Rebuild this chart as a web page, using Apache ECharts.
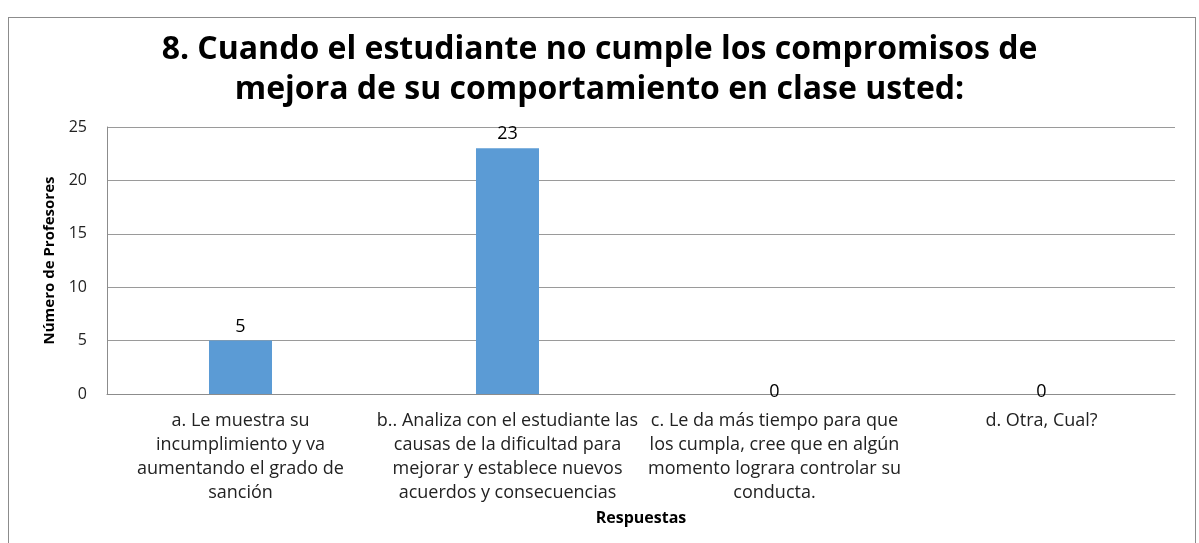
<!DOCTYPE html>
<html>
<head>
<meta charset="utf-8">
<script src="https://cdn.jsdelivr.net/npm/echarts@6/dist/echarts.min.js"></script>
<style>
  html, body { margin: 0; padding: 0; background: #fff; }
  #frame { position: absolute; left: 8px; top: 17px; width: 1186px; height: 540px; border: 1px solid #8c8c8c; }
  #chart { position: absolute; left: 0; top: 0; width: 1199px; height: 543px; }
</style>
</head>
<body>
<div id="frame"></div>
<div id="chart"></div>
<script>
const titleLines = [
  '8. Cuando el estudiante no cumple los compromisos de',
  'mejora de su comportamiento en clase usted:',
]

const categories = [
  'a. Le muestra su\nincumplimiento y va\naumentando el grado de\nsanción',
  'b.. Analiza con el estudiante las\ncausas de la dificultad para\nmejorar y establece nuevos\nacuerdos y consecuencias',
  'c. Le da más tiempo para que\nlos cumpla, cree que en algún\nmomento lograra controlar su\nconducta.',
  'd. Otra, Cual?',
]

const profesores = [5, 23, 0, 0]

const yTicks = { min: 0, max: 25, interval: 5 }

const FONT = '"Open Sans", sans-serif'

const chart = echarts.init(document.getElementById('chart'), null, { renderer: 'canvas' })

// zero values: Excel puts the label right on the axis line
const barData = profesores.map(v => v === 0
  ? { value: v, label: { offset: [0, 12] } }
  : v)

const option = {
  animation: false,
  title: {
    text: titleLines.join('\n'),
    left: 'center',
    top: 25,
    textStyle: {
      fontFamily: FONT,
      fontSize: 32,
      fontWeight: 'bold',
      color: '#000',
      lineHeight: 40,
    },
  },
  grid: { left: 107, right: 24, top: 127, bottom: 149, containLabel: false },
  xAxis: {
    type: 'category',
    data: categories,
    name: 'Respuestas',
    nameLocation: 'middle',
    nameGap: 116,
    nameTextStyle: { fontFamily: FONT, fontSize: 16, fontWeight: 'bold', color: '#000' },
    axisLine: { lineStyle: { color: '#8c8c8c', width: 1 } },
    axisTick: { show: false },
    axisLabel: {
      interval: 0,
      margin: 15,
      fontFamily: FONT,
      fontSize: 18,
      lineHeight: 24,
      color: '#222',
    },
  },
  yAxis: {
    type: 'value',
    min: yTicks.min,
    max: yTicks.max,
    interval: yTicks.interval,
    name: 'Número de Profesores',
    nameLocation: 'middle',
    nameGap: 50,
    nameRotate: 90,
    nameTextStyle: { fontFamily: FONT, fontSize: 15, fontWeight: 'bold', color: '#000' },
    axisLine: { show: true, lineStyle: { color: '#8c8c8c', width: 1 } },
    axisTick: { show: false },
    splitLine: { lineStyle: { color: '#9a9a9a', width: 1 } },
    axisLabel: {
      margin: 20,
      fontFamily: FONT,
      fontSize: 16,
      color: '#222',
    },
  },
  series: [
    {
      name: 'Número de Profesores',
      type: 'bar',
      data: barData,
      barWidth: '23.6%',
      itemStyle: { color: '#5B9BD5' },
      label: {
        show: true,
        position: 'top',
        distance: 5,
        fontFamily: FONT,
        fontSize: 18,
        color: '#000',
      },
    },
  ],
}

chart.setOption(option)
</script>
</body>
</html>
